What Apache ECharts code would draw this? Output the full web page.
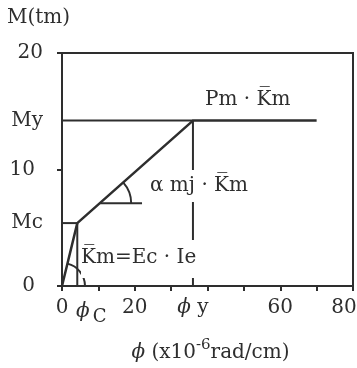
<!DOCTYPE html>
<html>
<head>
<meta charset="utf-8">
<script src="https://cdn.jsdelivr.net/npm/echarts@6/dist/echarts.min.js"></script>
<style>
  html, body { margin: 0; padding: 0; background: #fff; }
  #chart { width: 357px; height: 368px; }
</style>
</head>
<body>
<div id="chart"></div>
<script>
// Break points of the moment–curvature skeleton (curvature in 1e-6 rad/cm, moment in tm)
const phiC = 4.2;
const phiY = 36;
const phiEnd = 70;
const Mc = 5.4;
const My = 14.2;

const skeleton = [[0, 0], [phiC, Mc], [phiY, My], [phiEnd, My]];
const yieldLevel = [[0, My], [phiY, My]];
const crackLevel = [[0, Mc], [phiC, Mc]];
const crackDrop = [[phiC, 0], [phiC, Mc]];
const yieldDrop = [[phiY, 0], [phiY, My]];
// horizontal reference for the post-crack slope angle
const slopeRef = [[10.5, 7.1], [22, 7.1]];
// angle arcs: [centre x, centre y, point on slope x, point on slope y, radius px]
const angleArcs = [[0, 0, phiC, Mc, 23], [10.5, 7.1, phiY, My, 31]];

const xTicks = [0, 10, 20, 30, 40, 50, 60, 70, 80];
const xLabelValues = [0, phiC, 20, phiY, 60, 80];
const yTicks = [0, 10, 20];
const yLabelValues = [0, Mc, 10, My, 20];

const INK = '#2e2e2e';
const FONT = 'DejaVu Serif';
const FS = 20;

const chart = echarts.init(document.getElementById('chart'), null, { renderer: 'canvas' });

function lineSeries(data, width) {
  return {
    type: 'line', data: data, symbol: 'none', silent: true,
    lineStyle: { color: INK, width: width }, z: 3
  };
}

const option = {
  backgroundColor: '#fff',
  animation: false,
  grid: {
    left: 62, right: 4, top: 53, bottom: 82,
    show: true, borderColor: INK, borderWidth: 2,
    outerBoundsMode: 'none'
  },
  xAxis: {
    type: 'value', min: 0, max: 80, interval: 10,
    splitLine: { show: false },
    axisLine: { lineStyle: { color: INK, width: 2 } },
    axisTick: { show: true, customValues: xTicks, length: 5, lineStyle: { color: INK, width: 2 } },
    axisLabel: {
      customValues: xLabelValues,
      interval: 0,
      hideOverlap: false,
      showMinLabel: true,
      showMaxLabel: true,
      margin: 12,
      color: INK, fontFamily: FONT, fontSize: FS,
      formatter: function (v) {
        if (v === phiC) return '{c|ϕ}{s|C}';
        if (v === phiY) return '{p|ϕ} {n|y}';
        if (v === 80) return '{e|80}';
        return '{n|' + v + '}';
      },
      rich: {
        n: { fontFamily: FONT, fontSize: FS, color: INK },
        p: { fontFamily: FONT, fontSize: FS, color: INK, fontStyle: 'italic' },
        c: { fontFamily: FONT, fontSize: FS, color: INK, fontStyle: 'italic', padding: [0, 0, 0, 28] },
        s: { fontFamily: FONT, fontSize: 18, color: INK, padding: [10, 0, 0, 3] },
        e: { fontFamily: FONT, fontSize: FS, color: INK, padding: [0, 18, 0, 0] }
      }
    },
    name: '{p|ϕ} (x10{sup|-6}rad/cm)',
    nameLocation: 'middle',
    nameGap: 52,
    nameTextStyle: {
      color: INK, fontFamily: FONT, fontSize: FS, padding: [0, 0, 0, 6],
      rich: {
        p: { fontFamily: FONT, fontSize: FS, color: INK, fontStyle: 'italic' },
        sup: { fontFamily: FONT, fontSize: 15, color: INK, padding: [0, 0, 14, 0] }
      }
    }
  },
  yAxis: {
    type: 'value', min: 0, max: 20, interval: 10,
    splitLine: { show: false },
    axisLine: { lineStyle: { color: INK, width: 2 } },
    axisTick: { show: true, customValues: yTicks, length: 5, lineStyle: { color: INK, width: 2 } },
    axisLabel: {
      customValues: yLabelValues,
      interval: 0,
      hideOverlap: false,
      margin: 19,
      color: INK, fontFamily: FONT, fontSize: FS,
      formatter: function (v) {
        if (v === Mc) return '{n|Mc}';
        if (v === My) return '{n|My}';
        if (v === 20) return '{n|20}';
        return '{o|' + v + '}';
      },
      rich: {
        n: { fontFamily: FONT, fontSize: FS, color: INK },
        o: { fontFamily: FONT, fontSize: FS, color: INK, padding: [0, 8, 0, 0] }
      }
    }
  },
  graphic: [
    { type: 'text', left: 7, top: 8,
      style: { text: 'M(tm)', font: FS + 'px "' + FONT + '"', fill: INK } },
    { type: 'text', left: 205, top: 90, z: 10,
      style: { text: 'Pm · K\u0305m', font: FS + 'px "' + FONT + '"', fill: INK } },
    { type: 'text', left: 150, top: 170, z: 10,
      style: { text: 'α mj · K\u0305m', font: FS + 'px "' + FONT + '"', fill: INK,
               backgroundColor: '#fff', padding: [6, 0, 6, 0] } },
    { type: 'text', left: 81, top: 240, z: 10,
      style: { text: 'K\u0305m=Ec · Ie', font: FS + 'px "' + FONT + '"', fill: INK,
               backgroundColor: '#fff', padding: [8, 2, 10, 0] } }
  ],
  series: [
    lineSeries(yieldLevel, 2),
    lineSeries(crackLevel, 2),
    lineSeries(crackDrop, 2),
    lineSeries(yieldDrop, 2),
    lineSeries(slopeRef, 2),
    lineSeries(skeleton, 2.5),
    {
      type: 'custom', silent: true, z: 3,
      data: angleArcs,
      encode: { x: [0, 2], y: [1, 3] },
      renderItem: function (params, api) {
        const c = api.coord([api.value(0), api.value(1)]);
        const p = api.coord([api.value(2), api.value(3)]);
        const a = Math.atan2(p[1] - c[1], p[0] - c[0]);
        return {
          type: 'arc',
          shape: { cx: c[0], cy: c[1], r: api.value(4), startAngle: a, endAngle: 0, clockwise: true },
          style: { stroke: INK, fill: null, lineWidth: 2 }
        };
      }
    }
  ]
};

chart.setOption(option);
</script>
</body>
</html>
